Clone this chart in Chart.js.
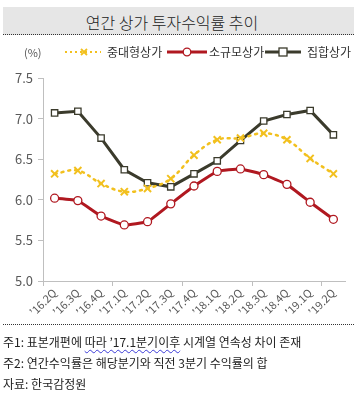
<!DOCTYPE html>
<html>
<head>
<meta charset="utf-8">
<script src="https://cdn.jsdelivr.net/npm/chart.js@4"></script>
<style>
  body { margin: 0; background: #fff; font-family: 'Noto Sans CJK KR', sans-serif; }
  #wrap { position: relative; width: 360px; height: 401px; overflow: hidden; }
  #titleBox { position: absolute; left: 3px; top: 7px; width: 351px; height: 27px; background: #e6e6e6; border-bottom: 1px dotted #333; }
  #title { position: absolute; left: 0; width: 338px; top: 3px; text-align: center; font-size: 16px; color: #222; font-weight: 300; }
  #chart { position: absolute; left: 0; top: 0; }
  .leg { position: absolute; top: 44px; font-size: 12px; color: #333; line-height: 16px; white-space: nowrap; }
  .leg svg { position: absolute; top: 0; }
  #sep { position: absolute; left: 3px; width: 351px; top: 324px; border-top: 1px dotted #333; }
  .note { position: absolute; left: 3px; font-size: 12px; color: #222; white-space: nowrap; }
  .wavy { text-decoration: underline wavy #3b3bd6; text-decoration-thickness: 1px; text-underline-offset: 2px; }
</style>
</head>
<body>
<div id="wrap">
  <div id="titleBox"><div id="title">연간 상가 투자수익률 추이</div></div>
  <canvas id="chart" width="360" height="325"></canvas>
  <div class="leg" style="left:24px;font-size:11px;color:#555;">(%)</div>
  <div class="leg" style="left:64px;">
    <svg width="38" height="16"><line x1="1" y1="8" x2="37" y2="8" stroke="#f2c01e" stroke-width="2" stroke-dasharray="2,3"/><path d="M17 5 L23 11 M23 5 L17 11" stroke="#f2c01e" stroke-width="1.8"/></svg>
    <span style="position:absolute;left:43px;">중대형상가</span>
  </div>
  <div class="leg" style="left:167px;">
    <svg width="40" height="16"><line x1="0" y1="8" x2="40" y2="8" stroke="#b01820" stroke-width="3"/><circle cx="20" cy="8" r="3.8" fill="#fff" stroke="#b01820" stroke-width="1.3"/></svg>
    <span style="position:absolute;left:42px;">소규모상가</span>
  </div>
  <div class="leg" style="left:265px;">
    <svg width="36" height="16"><line x1="0" y1="8" x2="36" y2="8" stroke="#3b3b2c" stroke-width="3"/><rect x="14" y="4" width="8" height="8" fill="#fff" stroke="#3b3b2c" stroke-width="1.3"/></svg>
    <span style="position:absolute;left:42px;">집합상가</span>
  </div>
  <div id="sep"></div>
  <div class="note" style="top:333px;">주1: 표본개편에 <span class="wavy">따라 ’17.1분기이후</span> 시계열 연속성 차이 존재</div>
  <div class="note" style="top:354px;">주2: 연간수익률은 해당분기와 직전 3분기 수익률의 합</div>
  <div class="note" style="top:375px;">자료: 한국감정원</div>
</div>
<script>
const quarters = ["’16.2Q", "’16.3Q", "’16.4Q", "’17.1Q", "’17.2Q", "’17.3Q", "’17.4Q",
                  "’18.1Q", "’18.2Q", "’18.3Q", "’18.4Q", "’19.1Q", "’19.2Q"];
const midLarge = [6.32, 6.36, 6.20, 6.10, 6.14, 6.26, 6.55, 6.74, 6.76, 6.82, 6.74, 6.51, 6.32];
const small = [6.02, 5.99, 5.80, 5.69, 5.73, 5.95, 6.17, 6.35, 6.38, 6.31, 6.19, 5.97, 5.76];
const complexStore = [7.07, 7.09, 6.76, 6.37, 6.21, 6.16, 6.32, 6.48, 6.73, 6.97, 7.05, 7.10, 6.80];
const yTicks = [5.0, 5.5, 6.0, 6.5, 7.0, 7.5];

Chart.defaults.font.family = "'Noto Sans CJK KR', sans-serif";

const ctx = document.getElementById('chart').getContext('2d');
new Chart(ctx, {
    type: 'line',
    data: {
        labels: quarters,
        datasets: [{
            label: '중대형상가',
            data: midLarge,
            borderColor: '#f2c01e',
            backgroundColor: '#f2c01e',
            borderWidth: 2.5,
            borderDash: [2, 5],
            borderCapStyle: 'round',
            tension: 0.4,
            pointStyle: 'crossRot',
            pointRadius: 5,
            pointBorderWidth: 2,
            pointBorderColor: '#f2c01e'
        },
        {
            label: '소규모상가',
            data: small,
            borderColor: '#b01820',
            backgroundColor: '#fff',
            borderWidth: 3,
            tension: 0.1,
            pointStyle: 'circle',
            pointRadius: 4,
            pointBorderWidth: 1.3,
            pointBackgroundColor: '#fff',
            pointBorderColor: '#b01820'
        },
        {
            label: '집합상가',
            data: complexStore,
            borderColor: '#3b3b2c',
            backgroundColor: '#fff',
            borderWidth: 3,
            tension: 0,
            pointStyle: 'rect',
            pointRadius: 4.5,
            pointBorderWidth: 1.3,
            pointBackgroundColor: '#fff',
            pointBorderColor: '#3b3b2c'
        }]
    },
    options: {
        responsive: false,
        animation: false,
        layout: { padding: { top: 78, right: 15, left: 0, bottom: 0 } },
        plugins: { legend: { display: false }, tooltip: { enabled: false } },
        scales: {
            x: {
                offset: true,
                border: { color: '#bfbfbf', width: 1 },
                grid: {
                    offset: true,
                    drawOnChartArea: false,
                    tickLength: 5,
                    color: c => (c.index % 3 === 0 && c.index <= 12) ? '#bfbfbf' : 'rgba(0,0,0,0)'
                },
                ticks: {
                    autoSkip: false,
                    minRotation: 45,
                    maxRotation: 45,
                    padding: 0,
                    color: '#595959',
                    font: { size: 11 }
                },
                afterFit: s => { s.height = 44; }
            },
            y: {
                min: 5,
                max: 7.5,
                border: { color: '#bfbfbf', width: 1 },
                grid: { drawOnChartArea: false, tickLength: 5, color: '#bfbfbf' },
                afterBuildTicks: s => { s.ticks = yTicks.map(v => ({ value: v })); },
                ticks: {
                    padding: 5,
                    color: '#595959',
                    font: { size: 13 },
                    callback: v => Number(v).toFixed(1)
                },
                afterFit: s => { s.width = 43; }
            }
        }
    }
});
</script>
</body>
</html>
